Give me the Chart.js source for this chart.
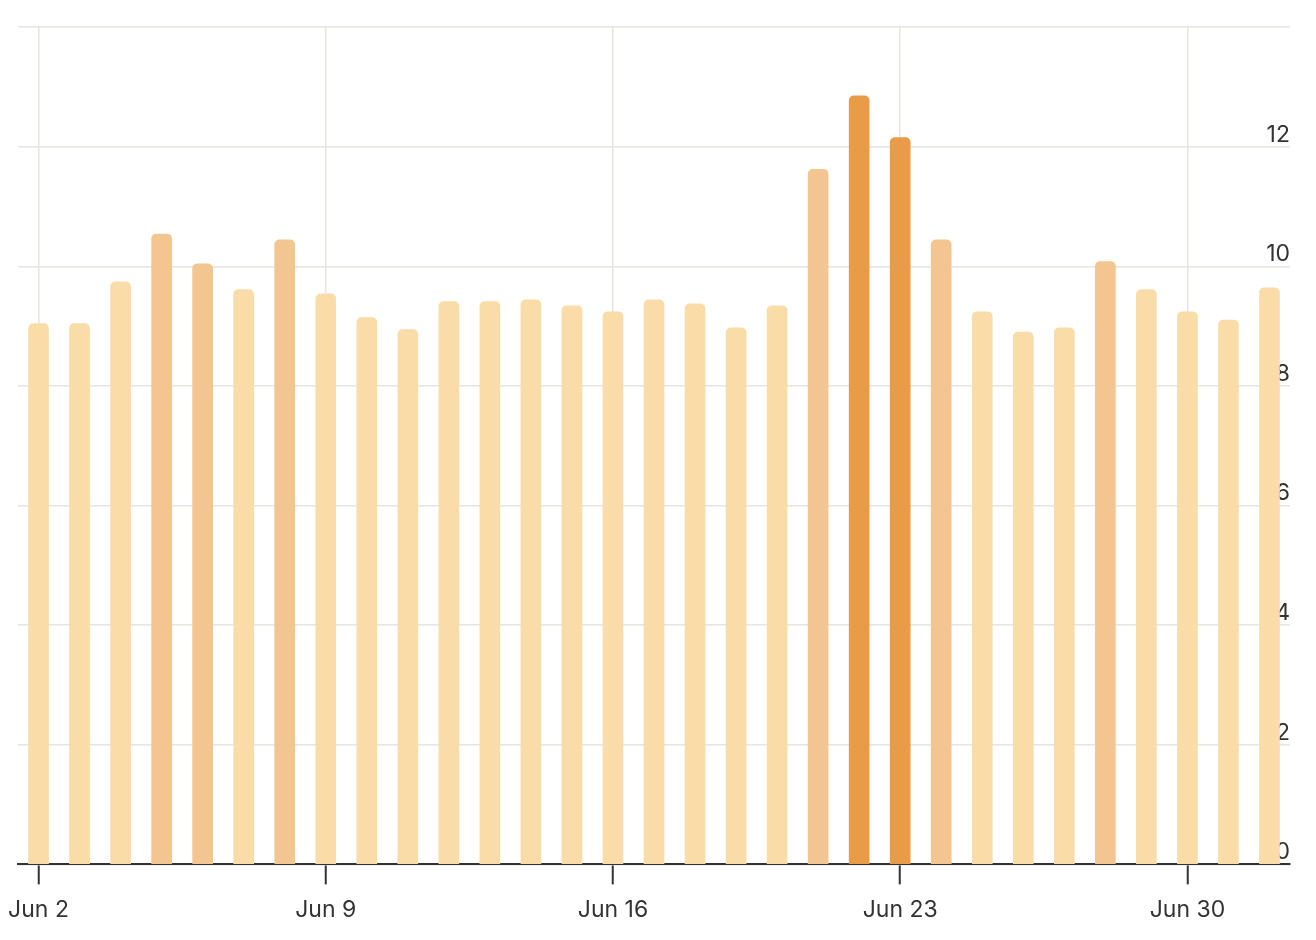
<!DOCTYPE html>
<html>
<head>
<meta charset="utf-8">
<script src="https://cdn.jsdelivr.net/npm/chart.js@4"></script>
<style>
  html, body { margin: 0; padding: 0; background: #fff; }
  #wrap { width: 1316px; height: 940px; }
</style>
</head>
<body>
<div id="wrap"><canvas id="myChart" width="1316" height="940"></canvas></div>
<script>
var dias = ['Jun 2', 'Jun 3', 'Jun 4', 'Jun 5', 'Jun 6', 'Jun 7', 'Jun 8', 'Jun 9', 'Jun 10', 'Jun 11',
    'Jun 12', 'Jun 13', 'Jun 14', 'Jun 15', 'Jun 16', 'Jun 17', 'Jun 18', 'Jun 19', 'Jun 20', 'Jun 21',
    'Jun 22', 'Jun 23', 'Jun 24', 'Jun 25', 'Jun 26', 'Jun 27', 'Jun 28', 'Jun 29', 'Jun 30', 'Jul 1', 'Jul 2'];
var valores = [9.04, 9.04, 9.74, 10.54, 10.04, 9.61, 10.44, 9.54, 9.14, 8.94,
    9.41, 9.41, 9.44, 9.34, 9.24, 9.44, 9.37, 8.97, 9.34, 11.62,
    12.85, 12.15, 10.44, 9.24, 8.90, 8.97, 10.08, 9.61, 9.24, 9.10, 9.64];
var ticksY = [0, 2, 4, 6, 8, 10, 12];

var gridCor = '#e8e4e0';
var textoCor = '#333333';

function corBarra(v) {
    if (v >= 12) return '#e99b48';
    if (v >= 10) return '#f3c591';
    return '#fadca8';
}

var ctx = document.getElementById('myChart');
var chart = new Chart(ctx, {
    type: 'bar',
    data: {
        labels: dias,
        datasets: [{
            data: valores,
            backgroundColor: valores.map(corBarra),
            barThickness: 20,
            borderRadius: { topLeft: 5, topRight: 5 },
            borderSkipped: 'bottom'
        }]
    },
    options: {
        responsive: false,
        animation: false,
        layout: { padding: { left: 18, right: 26, top: 27, bottom: 4 } },
        plugins: { legend: { display: false }, tooltip: { enabled: false } },
        scales: {
            x: {
                offset: true,
                afterFit: function (s) { s.paddingLeft = 0; },
                grid: {
                    offset: false,
                    lineWidth: 1.5,
                    color: function (c) { return c.index % 7 === 0 ? gridCor : 'rgba(0,0,0,0)'; },
                    tickColor: function (c) { return c.index % 7 === 0 ? textoCor : 'rgba(0,0,0,0)'; },
                    tickLength: 20,
                    tickWidth: 2
                },
                border: { display: true, color: textoCor, width: 2 },
                ticks: {
                    autoSkip: false,
                    maxRotation: 0,
                    padding: 12,
                    color: textoCor,
                    font: { family: 'Inter', size: 23 },
                    callback: function (v, i) { return i % 7 === 0 ? dias[i] : ''; }
                }
            },
            y: {
                position: 'right',
                min: 0,
                max: 14,
                grid: { color: gridCor, lineWidth: 1.5, drawTicks: false },
                border: { display: false },
                afterBuildTicks: function (axis) {
                    axis.ticks = ticksY.concat([14]).map(function (v) { return { value: v }; });
                },
                ticks: {
                    mirror: true,
                    padding: 0,
                    labelOffset: -12,
                    color: textoCor,
                    font: { family: 'Inter', size: 23 },
                    callback: function (v) { return ticksY.indexOf(v) >= 0 ? v : ''; }
                }
            }
        }
    }
});
</script>
</body>
</html>
